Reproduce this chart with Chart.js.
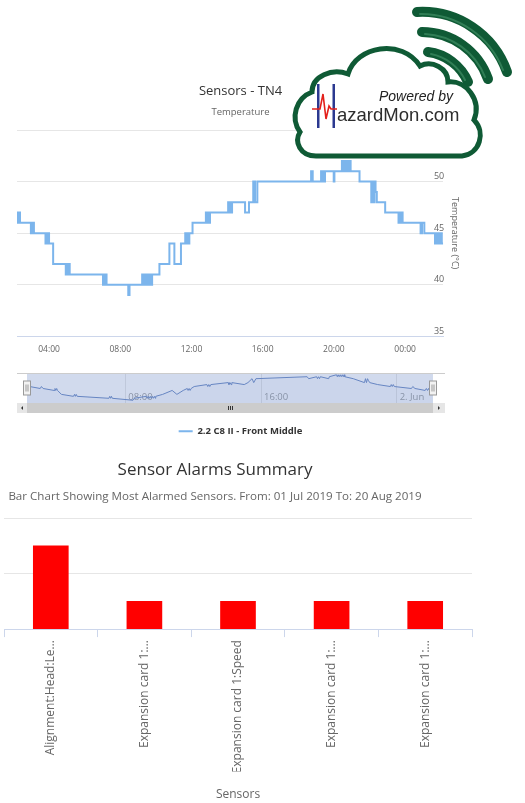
<!DOCTYPE html>
<html>
<head>
<meta charset="utf-8">
<title>Sensors - TN4</title>
<script src="https://cdn.jsdelivr.net/npm/chart.js@4.4.1/dist/chart.umd.min.js"></script>
<style>
    body { margin: 0; width: 525px; height: 803px; position: relative; overflow: hidden; background: #fff; font-family: 'Open Sans', sans-serif; }
    canvas, svg, .hc-title { position: absolute; }
    #lineChart { left: 0; top: 78px; }
    #navChart { left: 0; top: 370px; }
    #barChart { left: 0; top: 430px; }
    #logo { left: 0; top: 0; }
    .hc-title { left: 0; width: 430px; text-align: center; white-space: nowrap; }
    #barTitle { top: 459px; font-size: 17px; line-height: 20px; color: #333; }
    #barSubtitle { top: 489px; font-size: 11.6px; line-height: 14px; color: #666; }
</style>
</head>
<body>
<canvas id="lineChart" width="483" height="368"></canvas>
<canvas id="barChart" width="525" height="373"></canvas>
<canvas id="navChart" width="483" height="45"></canvas>
<div id="barTitle" class="hc-title">Sensor Alarms Summary</div>
<div id="barSubtitle" class="hc-title">Bar Chart Showing Most Alarmed Sensors. From: 01 Jul 2019 To: 20 Aug 2019</div>

<svg id="logo" width="525" height="170" viewBox="0 0 525 170">
    <g fill="none" stroke="#0f5a35" stroke-width="10" stroke-linecap="round">
        <path d="M 417 12 A 90 90 0 0 1 507 72"/>
        <path d="M 422 32 A 70 70 0 0 1 488 79"/>
        <path d="M 428 52 A 50 50 0 0 1 468 82"/>
    </g>
    <g fill="none" stroke="#3f8d63" stroke-width="2" stroke-linecap="round" opacity="0.7">
        <path d="M 420 14 A 88 88 0 0 1 503 70"/>
        <path d="M 425 34 A 68 68 0 0 1 485 77"/>
        <path d="M 431 54 A 48 48 0 0 1 465 80"/>
    </g>
    <path d="M 316 156 C 300 156, 294 142, 300 132 C 290 118, 296 98, 312 92 C 312 76, 332 68, 348 74
             C 356 46, 402 38, 420 66 C 432 60, 448 68, 448 82 C 466 80, 482 100, 474 120
             C 486 132, 480 154, 462 156 Z"
          fill="#fff" stroke="#0f5a35" stroke-width="5"/>
    <text x="379" y="101" font-family="'Liberation Sans', Arial, sans-serif" font-style="italic" font-size="14" fill="#222">Powered by</text>
    <rect x="317" y="84" width="2.5" height="44" fill="#2b3990"/>
    <rect x="332.5" y="84" width="2.5" height="44" fill="#2b3990"/>
    <path d="M 312 109 L 320 109 L 323 94 L 326 119 L 329 106 L 331 109 L 337 109" fill="none" stroke="#e3201b" stroke-width="1.6"/>
    <text x="337" y="121" font-family="'Liberation Sans', Arial, sans-serif" font-size="18.5" fill="#2d2d2d">azardMon.com</text>
</svg>

<script>
// --- Temperature log, TN4 (hours counted from 00:00 on 1 Jun) ---
// the short bursts are the sensor flicking between two readings
const tempTimes = [
    2.20, 2.25, 2.28, 2.32, 2.35, 2.37,
    2.98, 3.05, 3.15,
    3.80, 3.85, 3.90, 3.95, 4.00,
    4.23,
    4.94, 5.00, 5.05, 5.10, 5.16,
    7.03, 7.08, 7.13, 7.18, 7.23,
    8.45, 8.52,
    9.23, 9.29, 9.35, 9.41, 9.47, 9.53, 9.59, 9.65, 9.71, 9.77, 9.79,
    10.20,
    10.76, 11.04, 11.41,
    11.65, 11.70, 11.76, 11.82, 11.88,
    12.06,
    12.81, 12.86, 12.92, 12.98, 13.04,
    14.06, 14.11, 14.17, 14.23, 14.28,
    15.01, 15.23,
    15.47, 15.57, 15.70,
    18.72, 18.81,
    19.28, 19.33, 19.39, 19.45, 19.50,
    19.99, 20.03,
    20.45, 20.50, 20.55, 20.61, 20.67, 20.73, 20.79, 20.85, 20.90, 20.94,
    21.44,
    22.10, 22.16, 22.22, 22.28, 22.34, 22.41,
    22.88,
    23.63, 23.68, 23.74, 23.80, 23.86,
    24.87, 24.95, 25.08,
    25.68, 25.75,
    25.82, 25.88, 25.94, 26.00, 26.06, 26.14
];
const tempValues = [
    47, 46, 47, 46, 47, 46,
    45, 46, 45,
    44, 45, 44, 45, 44,
    42,
    41, 42, 41, 42, 41,
    40, 41, 40, 41, 40,
    39, 40,
    41, 40, 41, 40, 41, 40, 41, 40, 41, 40, 41,
    42,
    44, 42, 44,
    45, 44, 45, 44, 45,
    46,
    47, 46, 47, 46, 47,
    48, 47, 48, 47, 48,
    47, 48,
    50, 48, 50,
    51, 50,
    51, 50, 51, 50, 51,
    50, 51,
    52, 51, 52, 51, 52, 51, 52, 51, 52, 51,
    50,
    48, 50, 48, 50, 49, 48,
    47,
    46, 47, 46, 47, 46,
    45, 46, 45,
    44, 45,
    44, 45, 44, 45, 44, 44
];
const seriesName = '2.2 C8 II - Front Middle';
const viewStart = 2.20;          // visible window = whole log
const viewEnd = 26.14;
const navRange = [1.61, 26.85];  // navigator axis is a little wider
const tempAxis = [35, 55, 5];    // min, max, step
const dayLabel = '2. Jun';

// --- Alarm summary ---
const sensorNames = [
    'Alignment:Head:Le…',
    'Expansion card 1:…',
    'Expansion card 1:Speed',
    'Expansion card 1:…',
    'Expansion card 1:…'
];
const alarmCounts = [3, 1, 1, 1, 1];

// Theming (Highcharts look)
const colors = {
    line: '#7cb5ec',
    navLine: '#6685c2',
    mask: 'rgba(102, 133, 194, 0.3)',
    grid: '#e6e6e6',
    axis: '#ccd6eb',
    label: '#666666',
    title: '#333333',
    bar: '#ff0000'
};

Chart.defaults.font.family = "'Open Sans', sans-serif";
Chart.defaults.animation = false;
Chart.defaults.responsive = false;

const tempPoints = tempTimes.map((t, i) => ({ x: t, y: tempValues[i] }));
const hourLabel = v => String(v % 24).padStart(2, '0') + ':00';

// ================= MAIN TEMPERATURE CHART =================
new Chart(document.getElementById('lineChart'), {
    type: 'line',
    data: {
        datasets: [{
            label: seriesName,
            data: tempPoints,
            borderColor: colors.line,
            backgroundColor: colors.line,
            borderWidth: 2,
            pointRadius: 0,
            stepped: true,
            fill: false
        }]
    },
    options: {
        layout: { padding: { left: 17, right: 19, top: 0, bottom: 0 } },
        scales: {
            x: {
                type: 'linear',
                min: viewStart,
                max: viewEnd,
                grid: { display: false },
                border: { color: colors.axis },
                ticks: {
                    stepSize: 4, includeBounds: false, maxRotation: 0, padding: 0,
                    color: colors.label, font: { size: 8.5 },
                    callback: hourLabel
                }
            },
            y: {
                position: 'right',
                min: tempAxis[0],
                max: tempAxis[1],
                grid: { color: colors.grid, drawTicks: false },
                border: { display: false },
                ticks: {
                    stepSize: tempAxis[2], mirror: true, padding: 1, labelOffset: -5,
                    color: colors.label, font: { size: 9 }
                },
                title: {
                    display: true, text: 'Temperature (°C)',
                    color: colors.label, font: { size: 9 }, padding: { top: 4, bottom: 4 }
                }
            }
        },
        plugins: {
            title: {
                display: true, text: 'Sensors - TN4',
                color: colors.title, font: { size: 13, weight: 'normal' },
                padding: { top: 5, bottom: 8 }
            },
            subtitle: {
                display: true, text: 'Temperature',
                color: colors.label, font: { size: 9.5 },
                padding: { top: 0, bottom: 12 }
            },
            legend: {
                position: 'bottom',
                labels: {
                    color: colors.title, font: { size: 9.5, weight: 'bold' },
                    usePointStyle: true, pointStyle: 'line', pointStyleWidth: 14,
                    padding: 72
                }
            },
            tooltip: { enabled: false }
        }
    }
});

// ================= NAVIGATOR + SCROLLBAR =================
const navigatorPlugin = {
    id: 'navigatorDecor',
    beforeDatasetsDraw(chart) {
        const { ctx, chartArea: a, scales: { x } } = chart;
        ctx.save();
        // axis labels sit inside the navigator, under the mask
        ctx.fillStyle = '#999999';
        ctx.font = "9.5px 'Open Sans', sans-serif";
        ctx.textBaseline = 'alphabetic';
        x.ticks.forEach(t => {
            const txt = t.value >= 24 ? dayLabel : hourLabel(t.value);
            ctx.fillText(txt, x.getPixelForValue(t.value) + 3, a.bottom - 3);
        });
        // selected range mask
        const x0 = x.getPixelForValue(viewStart);
        const x1 = x.getPixelForValue(viewEnd);
        ctx.fillStyle = colors.mask;
        ctx.fillRect(x0, a.top, x1 - x0, a.bottom - a.top);
        ctx.restore();
    },
    afterDraw(chart) {
        const { ctx, chartArea: a, scales: { x } } = chart;
        const x0 = Math.round(x.getPixelForValue(viewStart));
        const x1 = Math.round(x.getPixelForValue(viewEnd));
        const mid = (a.top + a.bottom) / 2;
        ctx.save();
        // outline
        ctx.strokeStyle = '#cccccc';
        ctx.lineWidth = 1;
        ctx.beginPath();
        ctx.moveTo(a.left, a.top + 0.5);
        ctx.lineTo(a.right, a.top + 0.5);
        ctx.stroke();
        // handles
        [x0, x1].forEach(hx => {
            ctx.fillStyle = '#f2f2f2';
            ctx.strokeStyle = '#999999';
            ctx.fillRect(hx - 3.5, mid - 7, 7, 14);
            ctx.strokeRect(hx - 3.5, mid - 7, 7, 14);
            ctx.beginPath();
            ctx.moveTo(hx - 1, mid - 3.5); ctx.lineTo(hx - 1, mid + 3.5);
            ctx.moveTo(hx + 1, mid - 3.5); ctx.lineTo(hx + 1, mid + 3.5);
            ctx.stroke();
        });
        // scrollbar
        const sy = a.bottom, sh = 10;
        ctx.fillStyle = '#f2f2f2';
        ctx.fillRect(a.left, sy, a.right - a.left, sh);
        ctx.fillStyle = '#cccccc';
        ctx.fillRect(x0, sy, x1 - x0, sh);
        ctx.fillStyle = '#e6e6e6';
        ctx.fillRect(a.left, sy, x0 - a.left, sh);
        ctx.fillRect(x1, sy, a.right - x1, sh);
        ctx.fillStyle = '#333333';
        const lc = (a.left + x0) / 2, rc = (x1 + a.right) / 2, cy = sy + sh / 2;
        ctx.beginPath();
        ctx.moveTo(lc + 1, cy - 2); ctx.lineTo(lc - 1, cy); ctx.lineTo(lc + 1, cy + 2); ctx.closePath();
        ctx.moveTo(rc - 1, cy - 2); ctx.lineTo(rc + 1, cy); ctx.lineTo(rc - 1, cy + 2); ctx.closePath();
        ctx.fill();
        // grip
        const gc = Math.round((x0 + x1) / 2) + 0.5;
        ctx.strokeStyle = '#333333';
        ctx.beginPath();
        [-2, 0, 2].forEach(d => { ctx.moveTo(gc + d, sy + 3); ctx.lineTo(gc + d, sy + 7); });
        ctx.stroke();
        ctx.restore();
    }
};

new Chart(document.getElementById('navChart'), {
    type: 'line',
    data: {
        datasets: [{
            label: seriesName,
            data: tempPoints,
            borderColor: colors.navLine,
            backgroundColor: 'rgba(102, 133, 194, 0.05)',
            borderWidth: 1,
            pointRadius: 0,
            fill: 'start'
        }]
    },
    options: {
        layout: { padding: { left: 17, right: 38, top: 3, bottom: 12 } },
        scales: {
            x: {
                type: 'linear',
                min: navRange[0],
                max: navRange[1],
                ticks: { display: false, stepSize: 8, includeBounds: false },
                grid: { color: colors.grid, drawTicks: false },
                border: { display: false }
            },
            y: { display: false, min: 37.6, max: 52.9 }
        },
        plugins: { legend: { display: false }, tooltip: { enabled: false } }
    },
    plugins: [navigatorPlugin]
});

// ================= ALARM SUMMARY BAR CHART =================
new Chart(document.getElementById('barChart'), {
    type: 'bar',
    data: {
        labels: sensorNames,
        datasets: [{
            label: 'Alarms',
            data: alarmCounts,
            backgroundColor: colors.bar,
            barThickness: 35
        }]
    },
    options: {
        layout: { padding: { left: 4, right: 53, top: 88, bottom: 0 } },
        scales: {
            x: {
                grid: { drawOnChartArea: false, color: colors.axis, tickLength: 8, offset: true },
                border: { color: colors.axis },
                ticks: {
                    color: colors.label, font: { size: 12 },
                    minRotation: 90, maxRotation: 90, padding: 3, autoSkip: false
                }
            },
            y: {
                min: 0,
                max: 4,
                ticks: { display: false, stepSize: 2 },
                grid: { color: colors.grid, drawTicks: false },
                border: { display: false }
            }
        },
        plugins: {
            // axis caption sits in its own box so the tall rotated labels keep their room
            subtitle: {
                display: true, position: 'bottom', text: 'Sensors',
                color: colors.label, font: { size: 12 }, padding: { top: 16, bottom: 1 }
            },
            legend: { display: false },
            tooltip: { enabled: false }
        }
    }
});
</script>
</body>
</html>
